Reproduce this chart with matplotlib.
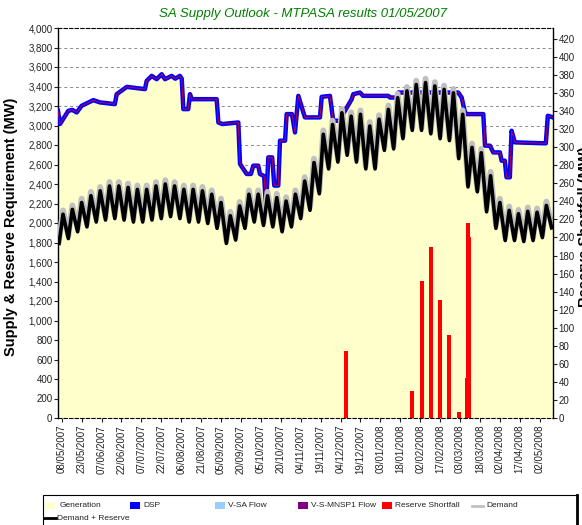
import matplotlib
matplotlib.use('Agg')
import matplotlib.pyplot as plt
import matplotlib.dates as mdates
import matplotlib.ticker as mticker
from matplotlib.patches import Rectangle
from matplotlib.lines import Line2D
import pandas as pd

plt.rcParams['font.family'] = ['Liberation Sans', 'DejaVu Sans']

# ---------------- data ----------------
base = pd.Timestamp('2007-05-08')

# DSP (blue) : days after 08/05/2007, MW
dsp_day = [-2.8, -1.3, 5, 8, 11.3, 15, 23.8, 28.8, 40, 41.4, 49, 62.7, 64, 67.8, 71.5, 75.3, 77.8,
           82.8, 85.5, 89, 90.4, 91.6, 95.3, 96.6, 97.9, 116.7, 118, 121, 133, 134.3, 139.3,
           142.5, 144.3, 148, 149.3, 152.5, 153.8, 155.6, 158.5, 160.1, 163.1, 164.4, 168.2,
           169.4, 173.4, 175.7, 178.2, 182, 183.2, 194.5, 195.8, 202, 204.5, 209.6, 212, 218.4,
           219.6, 224.6, 227, 246, 247.2, 252.3, 253.5, 298.6, 301.2, 303.7, 305, 317.5, 318.8,
           322.5, 325, 330, 331.3, 333.7, 335, 337.5, 338.8, 341.3, 364.6, 366.1, 370]
dsp_mw = [3151, 3015, 3151, 3160, 3134, 3202, 3260, 3237, 3219, 3321, 3396, 3373, 3458, 3509, 3475,
          3526, 3475, 3509, 3480, 3509, 3480, 3168, 3168, 3321, 3270, 3270, 3031, 3015, 3031, 2605,
          2503, 2503, 2588, 2588, 2503, 2480, 2162, 2673, 2673, 2384, 2384, 2844, 2844, 3117, 3117,
          2929, 3304, 3134, 3083, 3083, 3294, 3304, 3049, 3049, 3120, 3270, 3321, 3338, 3304, 3304,
          3287, 3287, 3338, 3338, 3287, 3134, 3117, 3117, 2793, 2793, 2724, 2724, 2639, 2639, 2469,
          2469, 2946, 2827, 2817, 3100, 3083]

# Demand + Reserve (black): weekly peaks (Wednesdays) and troughs (Sundays)
dr_peak = [2090, 2140, 2210, 2280, 2330, 2380, 2380, 2365, 2345, 2345, 2380, 2400, 2380, 2345,
           2345, 2330, 2295, 2210, 2075, 2175, 2295, 2295, 2280, 2260, 2225, 2295, 2430, 2620,
           2910, 3010, 3130, 3095, 3115, 2995, 3065, 3165, 3285, 3355, 3420, 3440, 3405, 3370,
           3335, 3115, 2775, 2720, 2485, 2210, 2130, 2095, 2120, 2110, 2180]
dr_trough = [1790, 1840, 1910, 1960, 2010, 2030, 2045, 2030, 2010, 2010, 2030, 2045, 2065, 2045,
             2010, 2010, 1995, 1945, 1790, 1825, 1945, 2010, 1975, 1960, 1910, 1960, 2045, 2130,
             2300, 2555, 2625, 2695, 2625, 2555, 2555, 2745, 2760, 2865, 2950, 2950, 2915, 2865,
             2845, 2660, 2370, 2320, 2115, 1945, 1820, 1820, 1810, 1820, 1850, 1950]

# Demand (grey)
dem_peak = [2130, 2180, 2250, 2320, 2370, 2420, 2420, 2405, 2385, 2385, 2420, 2440, 2420, 2385,
            2385, 2370, 2335, 2250, 2115, 2215, 2335, 2335, 2320, 2300, 2265, 2335, 2470, 2660,
            2950, 3050, 3170, 3135, 3155, 3035, 3105, 3205, 3325, 3395, 3460, 3480, 3445, 3410,
            3375, 3155, 2815, 2760, 2525, 2250, 2170, 2135, 2160, 2150, 2220]
dem_trough = [1820, 1870, 1940, 1990, 2040, 2060, 2075, 2060, 2040, 2040, 2060, 2075, 2095, 2075,
              2040, 2040, 2025, 1975, 1820, 1855, 1975, 2040, 2005, 1990, 1940, 1990, 2075, 2160,
              2330, 2585, 2655, 2725, 2655, 2585, 2585, 2775, 2790, 2895, 2980, 2980, 2945, 2895,
              2875, 2690, 2400, 2350, 2145, 1975, 1850, 1850, 1840, 1850, 1880, 1980]

# Reserve shortfall bars (right axis)
short_date = ['2007-12-08', '2008-01-27', '2008-02-03', '2008-02-10', '2008-02-17',
              '2008-02-24', '2008-03-02', '2008-03-09', '2008-03-10', '2008-03-09']
short_mw = [74, 30, 152, 189, 131, 92, 7, 216, 200, 44]
bar_w_days = [3.5, 3, 3, 3, 3, 3, 3, 2.5, 2.5, 5]

left_ticks = list(range(0, 4001, 200))
right_ticks = list(range(0, 421, 20))
x_ticks = pd.date_range('2007-05-08', '2008-05-02', freq='15D')

# ---------------- build series ----------------
dsp_dates = base + pd.to_timedelta(dsp_day, unit='D')
pk_dates = pd.date_range('2007-05-09', periods=len(dr_peak), freq='7D')
tr_dates = pd.date_range('2007-05-06', periods=len(dr_trough), freq='7D')
dr = pd.concat([pd.Series(dr_peak, index=pk_dates), pd.Series(dr_trough, index=tr_dates)]).sort_index()
dem = pd.concat([pd.Series(dem_peak, index=pk_dates), pd.Series(dem_trough, index=tr_dates)]).sort_index()

W, H = 582, 525
fig = plt.figure(figsize=(W / 100, H / 100), dpi=100)
fig.patch.set_facecolor('white')
L, R, T, B = 58, 553, 28, 418
ax = fig.add_axes([L / W, 1 - B / H, (R - L) / W, (B - T) / H])

ax.set_xlim(pd.Timestamp('2007-05-05 05:00'), pd.Timestamp('2008-05-12'))
ax.set_ylim(0, 4000)

ax.yaxis.grid(True, linestyle=(0, (3, 3)), color='#8a8a8a', lw=0.7)
ax.set_axisbelow(True)

ax.fill_between(dsp_dates, dsp_mw, 0, color='#FFFFCC', lw=0, zorder=1)
ax.plot(dsp_dates, dsp_mw, color='#0000FF', lw=3.2, zorder=3)
ax.plot(dsp_dates, dsp_mw, color='#CC0033', lw=0.6, zorder=4)
ax.plot(dem.index, dem.values, color='#C0C0C0', lw=4.2, zorder=5)
ax.plot(dr.index, dr.values, color='black', lw=2.6, zorder=6)

ax.set_yticks(left_ticks)
ax.yaxis.set_major_formatter(mticker.FuncFormatter(lambda v, p: f'{v:,.0f}'))
ax.set_xticks(x_ticks)
ax.xaxis.set_major_formatter(mdates.DateFormatter('%d/%m/%Y'))
ax.tick_params(axis='x', labelrotation=90, labelsize=7, length=3, pad=2, colors='#222222')
ax.tick_params(axis='y', labelsize=7, length=3, pad=1, colors='#222222')

for s in ['top', 'bottom']:
    ax.spines[s].set_linestyle((0, (3, 2)))
    ax.spines[s].set_color('black')
    ax.spines[s].set_linewidth(0.8)
ax.spines['left'].set_linewidth(1.0)
ax.spines['right'].set_visible(False)

ax.set_ylabel('Supply & Reserve Requirement (MW)', fontsize=10.5, fontweight='bold')
ax.yaxis.set_label_coords((18 - L) / (R - L), 0.49)

ax2 = ax.twinx()
ax2.set_ylim(0, 432)
ax2.bar(pd.to_datetime(short_date), short_mw, width=bar_w_days, color='#FF0000', lw=0, zorder=3)
ax2.set_yticks(right_ticks)
ax2.tick_params(axis='y', labelsize=7, length=3, pad=1, colors='#222222')
for s in ['top', 'bottom', 'left']:
    ax2.spines[s].set_visible(False)
ax2.spines['right'].set_linewidth(1.0)
ax2.set_ylabel('Reserve Shortfall (MW)', fontsize=10.5, fontweight='bold', rotation=90)
ax2.yaxis.set_label_coords((578 - L) / (R - L), 0.49)

fig.text(303 / W, 1 - 14 / H, 'SA Supply Outlook - MTPASA results 01/05/2007', color='#008000',
         fontstyle='italic', fontsize=9.5, ha='center', va='center')

# ---------------- legend (drawn in pixel positions) ----------------
def fx(x):
    return x / W

def fy(y):
    return 1 - y / H

fig.add_artist(Rectangle((fx(43), fy(530)), (577 - 43) / W, (530 - 495) / H,
                         transform=fig.transFigure, facecolor='white', edgecolor='black', lw=0.8))
fig.add_artist(Line2D([fx(577), fx(577)], [fy(495), fy(525)], transform=fig.transFigure,
                      color='black', lw=2.0))

leg_patches = [('Generation', '#FFFFCC', 45, 60), ('DSP', '#0000FF', 130, 143),
               ('V-SA Flow', '#99CCFF', 215, 228), ('V-S-MNSP1 Flow', '#800080', 298, 311),
               ('Reserve Shortfall', '#FF0000', 382, 395)]
row1 = 505.5
for name, col, px, tx in leg_patches:
    fig.add_artist(Rectangle((fx(px), fy(row1 + 3.5)), 10 / W, 7 / H, transform=fig.transFigure,
                             facecolor=col, edgecolor='none'))
    fig.text(fx(tx), fy(row1), name, fontsize=6, ha='left', va='center', color='#222222')
fig.add_artist(Line2D([fx(472), fx(483)], [fy(row1), fy(row1)], transform=fig.transFigure,
                      color='#C0C0C0', lw=2))
fig.text(fx(486), fy(row1), 'Demand', fontsize=6, ha='left', va='center', color='#222222')
row2 = 518
fig.add_artist(Line2D([fx(44), fx(56)], [fy(row2), fy(row2)], transform=fig.transFigure,
                      color='black', lw=2))
fig.text(fx(57), fy(row2), 'Demand + Reserve', fontsize=6, ha='left', va='center',
         color='#222222')

fig.savefig('out.png', dpi=100)
